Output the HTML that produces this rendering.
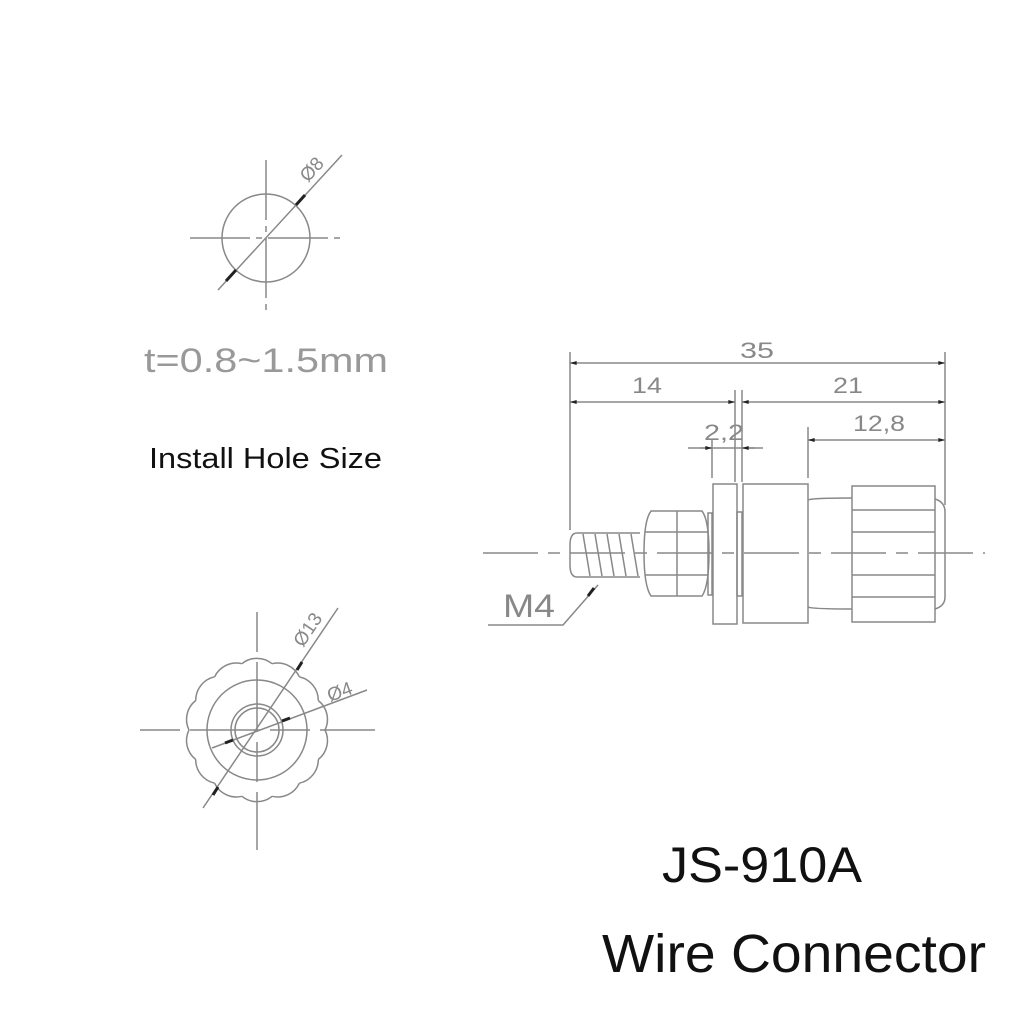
<!DOCTYPE html>
<html><head><style>
html,body{margin:0;padding:0;background:#fff;}
svg{display:block}
</style></head><body>
<svg width="1024" height="1024" viewBox="0 0 1024 1024" xmlns="http://www.w3.org/2000/svg">
<defs>
<marker id="a" viewBox="0 0 10 6" refX="10" refY="3" markerWidth="10" markerHeight="4" orient="auto-start-reverse" markerUnits="userSpaceOnUse"><path d="M0,0 L10,3 L0,6z" fill="#222"/></marker>
</defs>
<g fill="none" stroke="#888" stroke-width="1.5">
<!-- top hole -->
<circle cx="266" cy="238" r="44"/>
<line x1="190" y1="238" x2="343" y2="238" stroke-dasharray="60 6 6 6"/>
<line x1="266" y1="160" x2="266" y2="312" stroke-dasharray="60 6 6 6"/>
<line x1="218" y1="290" x2="342" y2="155"/>
<line x1="236" y1="270" x2="226" y2="281" stroke="#222" stroke-width="3"/>
<line x1="296" y1="205" x2="305" y2="195" stroke="#222" stroke-width="3"/>

<!-- bottom front view -->
<g>
<path id="sc" d="M325,730 A24 24 0 0 1 318.3,759.5"/>
<use href="#sc" transform="rotate(25.714 257 730)"/>
<use href="#sc" transform="rotate(51.43 257 730)"/>
<use href="#sc" transform="rotate(77.14 257 730)"/>
<use href="#sc" transform="rotate(102.86 257 730)"/>
<use href="#sc" transform="rotate(128.57 257 730)"/>
<use href="#sc" transform="rotate(154.29 257 730)"/>
<use href="#sc" transform="rotate(180 257 730)"/>
<use href="#sc" transform="rotate(205.71 257 730)"/>
<use href="#sc" transform="rotate(231.43 257 730)"/>
<use href="#sc" transform="rotate(257.14 257 730)"/>
<use href="#sc" transform="rotate(282.86 257 730)"/>
<use href="#sc" transform="rotate(308.57 257 730)"/>
<use href="#sc" transform="rotate(334.29 257 730)"/>
</g>
<circle cx="257" cy="730" r="50"/>
<circle cx="257" cy="730" r="26"/>
<circle cx="257" cy="730" r="22"/>
<line x1="140" y1="730" x2="375" y2="730" stroke-dasharray="40 10 70 10"/>
<line x1="257" y1="612" x2="257" y2="850" stroke-dasharray="40 10 70 10"/>
<line x1="203" y1="808" x2="338" y2="608"/>
<line x1="212" y1="748" x2="367" y2="690"/>
<line x1="213" y1="795" x2="218" y2="787" stroke="#222" stroke-width="3"/>
<line x1="297" y1="670" x2="302" y2="662" stroke="#222" stroke-width="3"/>
<line x1="225" y1="743" x2="233" y2="740" stroke="#222" stroke-width="3"/>
<line x1="282" y1="721" x2="290" y2="718" stroke="#222" stroke-width="3"/>

<!-- side view -->
<line x1="483" y1="553" x2="985" y2="553" stroke-dasharray="55 10 12 10"/>
<line x1="570" y1="352" x2="570" y2="530"/>
<line x1="945" y1="352" x2="945" y2="505"/>
<line x1="735" y1="390" x2="735" y2="482"/>
<line x1="742" y1="390" x2="742" y2="482"/>
<line x1="712" y1="440" x2="712" y2="478"/>
<line x1="808" y1="427" x2="808" y2="478"/>
<line x1="570" y1="363" x2="945" y2="363" marker-start="url(#a)" marker-end="url(#a)"/>
<line x1="570" y1="402" x2="735" y2="402" marker-start="url(#a)" marker-end="url(#a)"/>
<line x1="742" y1="402" x2="945" y2="402" marker-start="url(#a)" marker-end="url(#a)"/>
<line x1="808" y1="440" x2="945" y2="440" marker-start="url(#a)" marker-end="url(#a)"/>
<line x1="688" y1="448" x2="763" y2="448"/>
<line x1="700" y1="448" x2="712" y2="448" marker-end="url(#a)"/>
<line x1="755" y1="448" x2="742" y2="448" marker-end="url(#a)"/>
<!-- stud -->
<path d="M640,533 L577,533 Q570,533 570,545 L570,565 Q570,577 577,577 L640,577"/>
<path d="M583,534 L590,576 M595,534 L602,576 M607,534 L614,576 M619,534 L626,576 M631,534 L638,576"/>
<!-- nut -->
<path d="M651,511 L702,511 Q709,520 709,553 Q709,586 702,596 L651,596 Q644,586 644,553 Q644,520 651,511z"/>
<line x1="677" y1="511" x2="677" y2="596"/>
<line x1="645" y1="532" x2="708" y2="532"/>
<line x1="645" y1="575" x2="708" y2="575"/>
<rect x="708" y="513" width="4" height="82"/>
<!-- flange & body -->
<rect x="713" y="484" width="24" height="140"/>
<rect x="737" y="512" width="5" height="84"/>
<path d="M743,484 L808,484 L808,623 L743,623z"/>
<path d="M808,500 Q812,498 852,498 M808,607 Q812,609 852,609"/>
<rect x="852" y="486" width="83" height="136"/>
<path d="M852,510 H935 M852,532 H935 M852,575 H935 M852,597 H935"/>
<path d="M935,499 Q945,502 945,512 L945,597 Q945,606 935,609"/>
<!-- M4 leader -->
<path d="M488,625 L563,625 L598,585"/>
<line x1="588" y1="596" x2="594" y2="588" stroke="#222" stroke-width="3"/>
</g>
<g fill="#888" font-family="Liberation Sans, sans-serif">
<text x="740" y="358" font-size="22" textLength="34" lengthAdjust="spacingAndGlyphs">35</text>
<text x="632" y="393" font-size="22" textLength="30" lengthAdjust="spacingAndGlyphs">14</text>
<text x="833" y="393" font-size="22" textLength="30" lengthAdjust="spacingAndGlyphs">21</text>
<text x="704" y="440" font-size="22" textLength="40" lengthAdjust="spacingAndGlyphs">2,2</text>
<text x="853" y="431" font-size="22" textLength="52" lengthAdjust="spacingAndGlyphs">12,8</text>
<text x="503" y="617" font-size="32" textLength="52" lengthAdjust="spacingAndGlyphs">M4</text>
<text x="0" y="0" font-size="19" transform="translate(308,183) rotate(-48)">Ø8</text>
<text x="0" y="0" font-size="19" transform="translate(303,648) rotate(-56)">Ø13</text>
<text x="0" y="0" font-size="19" transform="translate(330,702) rotate(-20)">Ø4</text>
<text x="144" y="372" font-size="34" textLength="244" lengthAdjust="spacingAndGlyphs" fill="#999">t=0.8~1.5mm</text>
</g>
<g fill="#111" font-family="Liberation Sans, sans-serif">
<text x="149" y="468" font-size="29" textLength="233" lengthAdjust="spacingAndGlyphs">Install Hole Size</text>
<text x="662" y="882" font-size="50" textLength="200" lengthAdjust="spacingAndGlyphs">JS-910A</text>
<text x="602" y="972" font-size="54" textLength="384" lengthAdjust="spacingAndGlyphs">Wire Connector</text>
</g>
</svg>
</body></html>
